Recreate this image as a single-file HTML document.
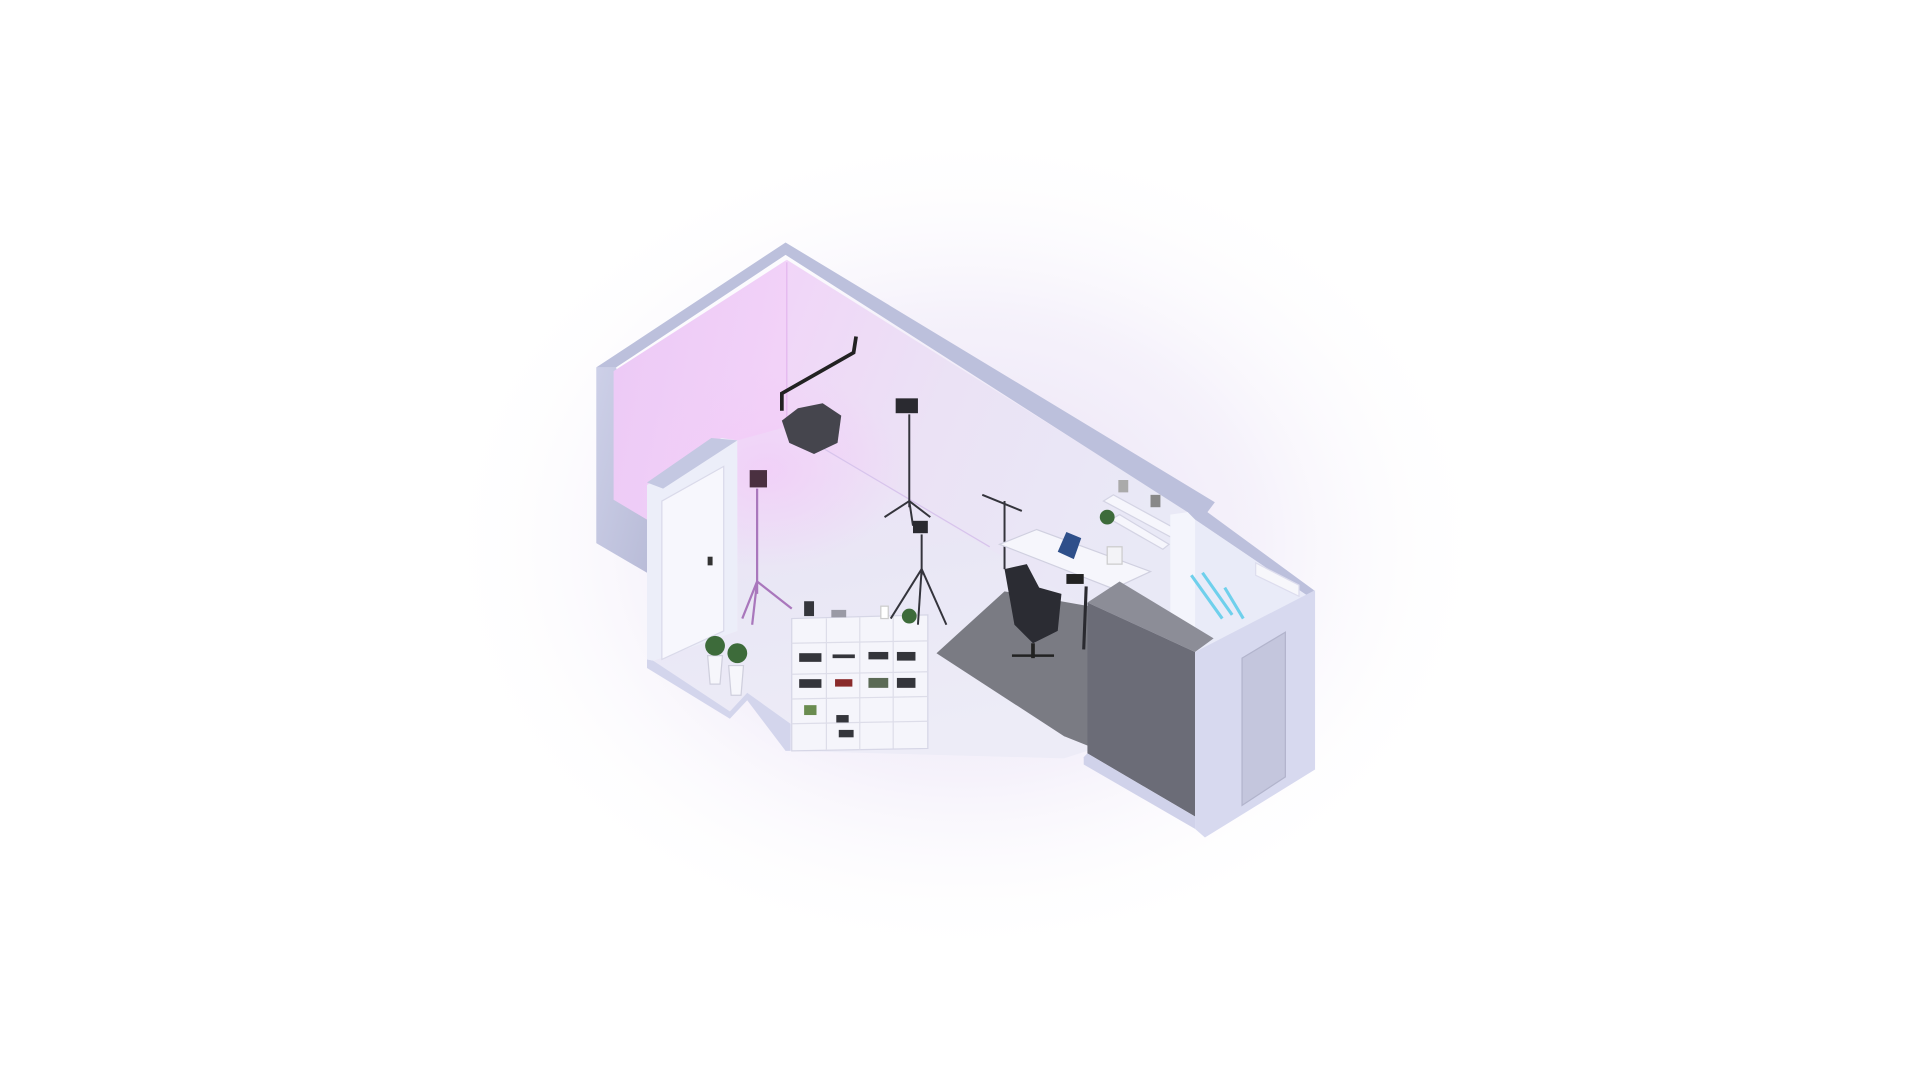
<!DOCTYPE html>
<html><head><meta charset="utf-8"><style>
html,body{margin:0;padding:0;width:1920px;height:1080px;overflow:hidden;background:#fff}
svg{display:block}
</style></head><body>
<svg width="1920" height="1080" viewBox="0 0 1552 873" preserveAspectRatio="none">
<defs>
<radialGradient id="glow" cx="0.5" cy="0.5" r="0.5">
<stop offset="0" stop-color="#e6dcf3" stop-opacity="0.95"/>
<stop offset="0.55" stop-color="#f1ecf9" stop-opacity="0.7"/>
<stop offset="1" stop-color="#ffffff" stop-opacity="0"/>
</radialGradient>
<linearGradient id="lw" x1="0" y1="0" x2="1" y2="0.3">
<stop offset="0" stop-color="#ecc9f6"/><stop offset="1" stop-color="#f2d2f8"/>
</linearGradient>
<linearGradient id="bw" x1="0" y1="0" x2="1" y2="0.4">
<stop offset="0" stop-color="#f1d5f8"/><stop offset="0.45" stop-color="#ebe2f5"/><stop offset="1" stop-color="#e9e9f6"/>
</linearGradient>
<linearGradient id="fl" x1="0" y1="0" x2="0.3" y2="1">
<stop offset="0" stop-color="#efe0f7"/><stop offset="0.5" stop-color="#e9e7f5"/><stop offset="1" stop-color="#edecf7"/>
</linearGradient>
<linearGradient id="ow" x1="0" y1="0" x2="1" y2="1">
<stop offset="0" stop-color="#cdd0e8"/><stop offset="1" stop-color="#b9bcd8"/>
</linearGradient>
<radialGradient id="pink" cx="0.5" cy="0.5" r="0.5">
<stop offset="0" stop-color="#f2ccf8" stop-opacity="0.8"/><stop offset="1" stop-color="#f2ccf8" stop-opacity="0"/>
</radialGradient>
</defs>
<rect width="1552" height="873" fill="#fff"/>
<ellipse cx="780" cy="440" rx="430" ry="340" fill="url(#glow)"/>
<polygon points="482,297 498,297 523,392 523,463 482,439" fill="url(#ow)"/>
<polygon points="496,300 636,210 636,345 583,378 523,392 523,420 496,404" fill="url(#lw)"/>
<polygon points="636,210 960,413 960,540 636,345" fill="url(#bw)"/>
<polygon points="596,356 636,345 960,540 966,527 966,610 885,605 860,613 639,607 639,585 604,560 590,575 528,534 596,510" fill="url(#fl)"/>
<ellipse cx="620" cy="380" rx="110" ry="80" fill="url(#pink)"/>
<line x1="636" y1="212" x2="636" y2="345" stroke="#e3b6ee" stroke-width="1"/>
<line x1="636" y1="345" x2="800" y2="442" stroke="#d7c4ec" stroke-width="1"/>
<polygon points="523,533 528,534 590,575 604,560 639,585 639,607 635,607 604,566 590,581 523,540" fill="#d3d5ec"/>
<polygon points="523,392 583,354 596,356 596,510 528,534 523,533" fill="#eceef9"/>
<polygon points="523,390 575,354 596,356 536,395" fill="#c4c8e2"/>
<polygon points="535,405 585,377 585,510 535,533" fill="#f7f7fd" stroke="#dadaea"/>
<rect x="572" y="450" width="4" height="7" fill="#333"/>
<polygon points="482,297 635,196 982,406 976,414 1062,477 1062,485 966,420 960,414 635,206 498,297" fill="#bcc0dc"/>
<polygon points="572,530 584,530 582,553 574,553" fill="#f6f6fb" stroke="#cfcfdd"/>
<polygon points="589,538 601,538 599,562 591,562" fill="#f6f6fb" stroke="#cfcfdd"/>
<circle cx="578" cy="522" r="8" fill="#3d6b3a"/><circle cx="596" cy="528" r="8" fill="#3d6b3a"/>
<polygon points="757,528 812,478 880,490 885,605 860,595" fill="#7a7b83"/>
<polygon points="640,500 750,497 750,605 640,607" fill="#f5f5fb" stroke="#d6d6e6"/>
<g stroke="#dddde9" stroke-width="1"><line x1="640" y1="520" x2="750" y2="518"/><line x1="640" y1="545" x2="750" y2="543"/><line x1="640" y1="565" x2="750" y2="563"/><line x1="640" y1="585" x2="750" y2="583"/>
<line x1="668" y1="500" x2="668" y2="606"/><line x1="695" y1="499" x2="695" y2="606"/><line x1="722" y1="498" x2="722" y2="605"/></g>
<g fill="#34353b">
<rect x="646" y="528" width="18" height="7"/><rect x="673" y="529" width="18" height="3"/><rect x="702" y="527" width="16" height="6"/><rect x="725" y="527" width="15" height="7"/>
<rect x="646" y="549" width="18" height="7"/><rect x="675" y="549" width="14" height="6" fill="#8a2b2b"/><rect x="702" y="548" width="16" height="8" fill="#5b6a55"/><rect x="725" y="548" width="15" height="8"/>
<rect x="676" y="578" width="10" height="6"/><rect x="650" y="570" width="10" height="8" fill="#6a8c50"/><rect x="678" y="590" width="12" height="6"/>
<rect x="650" y="486" width="8" height="12"/><rect x="672" y="493" width="12" height="6" fill="#9a9aa5"/><rect x="712" y="490" width="6" height="10" fill="#fff" stroke="#ccc"/>
</g>
<circle cx="735" cy="498" r="6" fill="#3d6b3a"/>
<polyline points="632,332 632,318 690,285 692,272" fill="none" stroke="#222" stroke-width="3"/>
<polygon points="645,330 665,326 680,336 677,358 658,367 638,358 632,340" fill="#45454d"/>
<g stroke="#34343c" stroke-width="1.6" fill="none">
<line x1="735" y1="335" x2="735" y2="410"/><line x1="735" y1="405" x2="715" y2="418"/><line x1="735" y1="405" x2="752" y2="418"/><line x1="735" y1="405" x2="738" y2="425"/>
<line x1="745" y1="432" x2="745" y2="465"/><line x1="745" y1="460" x2="720" y2="500"/><line x1="745" y1="460" x2="765" y2="505"/><line x1="745" y1="460" x2="742" y2="505"/>
<line x1="794" y1="400" x2="826" y2="413"/><line x1="812" y1="405" x2="812" y2="460"/>
</g>
<g stroke="#a977bc" stroke-width="1.8" fill="none">
<line x1="612" y1="395" x2="612" y2="480"/><line x1="612" y1="470" x2="600" y2="500"/><line x1="612" y1="470" x2="640" y2="492"/><line x1="612" y1="470" x2="608" y2="505"/>
</g>
<rect x="724" y="322" width="18" height="12" fill="#2a2a30"/>
<rect x="606" y="380" width="14" height="14" fill="#4a3040"/>
<rect x="738" y="421" width="12" height="10" fill="#2a2a30"/>
<polygon points="808,440 838,428 930,462 900,476" fill="#f6f6fc" stroke="#d0d0e0"/>
<line x1="878" y1="474" x2="876" y2="525" stroke="#2a2a30" stroke-width="2.5"/>
<polygon points="855,446 862,430 874,435 868,452" fill="#2e4f8a"/>
<rect x="862" y="464" width="14" height="8" fill="#222"/>
<rect x="895" y="442" width="12" height="14" fill="#f3f3f7" stroke="#ccc"/>
<polygon points="812,460 830,456 840,475 858,480 855,510 835,520 820,505" fill="#2b2c33"/>
<line x1="835" y1="520" x2="835" y2="532" stroke="#222" stroke-width="3"/>
<line x1="818" y1="530" x2="852" y2="530" stroke="#222" stroke-width="2"/>
<polygon points="892,405 900,400 955,430 948,435" fill="#f6f6fc" stroke="#d4d4e4"/>
<polygon points="898,420 905,416 945,440 940,444" fill="#f6f6fc" stroke="#d4d4e4"/>
<circle cx="895" cy="418" r="6" fill="#3d6b3a"/>
<rect x="904" y="388" width="8" height="10" fill="#aaa"/><rect x="930" y="400" width="8" height="10" fill="#888"/>
<polygon points="946,416 966,420 1062,485 966,527 946,493" fill="#e9ebf8"/>
<polygon points="946,416 960,414 966,420 966,527 946,520" fill="#f4f5fc"/>
<line x1="963" y1="465" x2="988" y2="500" stroke="#6fd0ec" stroke-width="2.5"/>
<line x1="972" y1="463" x2="996" y2="497" stroke="#6fd0ec" stroke-width="2.5"/>
<line x1="990" y1="475" x2="1005" y2="500" stroke="#6fd0ec" stroke-width="2.5"/>
<polygon points="1015,455 1050,473 1050,482 1015,465" fill="#f7f7fb" stroke="#dde"/>
<polygon points="879,487 905,470 981,516 966,527" fill="#8c8d97"/>
<polygon points="879,487 966,527 966,660 879,609" fill="#6b6c77"/>
<polygon points="879,609 966,660 966,670 876,618 876,612" fill="#d0d2ea"/>
<polygon points="966,527 1063,477 1063,622 974,677 966,670" fill="#d7d9ef"/>
<polygon points="1004,532 1039,511 1039,628 1004,651" fill="#c4c6dd" stroke="#b2b4cc"/>
</svg>
</body></html>
